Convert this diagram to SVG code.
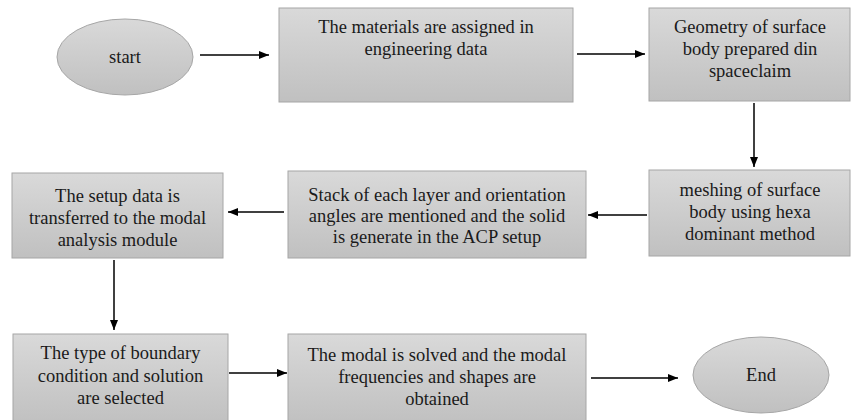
<svg xmlns="http://www.w3.org/2000/svg" width="851" height="420" viewBox="0 0 851 420">
<defs>
<linearGradient id="g" x1="0" y1="0" x2="0" y2="1">
<stop offset="0" stop-color="#d9d9d9"/>
<stop offset="1" stop-color="#c0c0c0"/>
</linearGradient>
<marker id="ah" markerWidth="10" markerHeight="8" refX="10" refY="4" orient="auto" markerUnits="userSpaceOnUse">
<path d="M0,0 L10,4 L0,8 Z" fill="#000"/>
</marker>
<style>
.box{fill:url(#g);stroke:#a6a6a6;stroke-width:1}
.t{font-family:"Liberation Serif","Times New Roman",serif;font-size:18.5px;fill:#1a1a1a;text-anchor:middle}
.c{stroke:#000;stroke-width:1.5;fill:none;marker-end:url(#ah)}
</style>
</defs>
<rect width="851" height="420" fill="#fff"/>
<g id="start">
<ellipse class="box" cx="125" cy="57" rx="68" ry="38"/>
<text class="t" x="125" y="63">start</text>
</g>
<g id="materials">
<rect class="box" x="279" y="8" width="294" height="94"/>
<text class="t" x="426" y="33">The materials are assigned in</text>
<text class="t" x="426" y="55">engineering data</text>
</g>
<g id="geometry">
<rect class="box" x="649" y="8" width="201" height="93"/>
<text class="t" x="750" y="33">Geometry of surface</text>
<text class="t" x="750" y="55">body prepared din</text>
<text class="t" x="750" y="77">spaceclaim</text>
</g>
<g id="meshing">
<rect class="box" x="649" y="170" width="201" height="86"/>
<text class="t" x="750" y="196">meshing of surface</text>
<text class="t" x="750" y="218">body using hexa</text>
<text class="t" x="750" y="240">dominant method</text>
</g>
<g id="stack">
<rect class="box" x="288" y="171" width="298" height="87"/>
<text class="t" x="437" y="201">Stack of each layer and orientation</text>
<text class="t" x="437" y="222">angles are mentioned and the solid</text>
<text class="t" x="437" y="243">is generate in the ACP setup</text>
</g>
<g id="setup">
<rect class="box" x="12" y="173" width="211" height="85"/>
<text class="t" x="117.5" y="202">The setup data is</text>
<text class="t" x="117.5" y="224">transferred to the modal</text>
<text class="t" x="117.5" y="246">analysis module</text>
</g>
<g id="boundary">
<rect class="box" x="13" y="334" width="215" height="90"/>
<text class="t" x="120.5" y="359">The type of boundary</text>
<text class="t" x="120.5" y="382">condition and solution</text>
<text class="t" x="120.5" y="404">are selected</text>
</g>
<g id="modal">
<rect class="box" x="288" y="334" width="298" height="90"/>
<text class="t" x="437" y="361">The modal is solved and the modal</text>
<text class="t" x="437" y="383">frequencies and shapes are</text>
<text class="t" x="437" y="405">obtained</text>
</g>
<g id="end">
<ellipse class="box" cx="761" cy="375" rx="68" ry="38"/>
<text class="t" x="761" y="381">End</text>
</g>
<g id="connectors">
<line class="c" x1="200" y1="55" x2="269" y2="55"/>
<line class="c" x1="577" y1="54" x2="645" y2="54"/>
<line class="c" x1="754" y1="103" x2="754" y2="167"/>
<line class="c" x1="647" y1="215" x2="588" y2="215"/>
<line class="c" x1="284" y1="212" x2="228" y2="212"/>
<line class="c" x1="114" y1="260" x2="114" y2="330"/>
<line class="c" x1="229" y1="373" x2="287" y2="373"/>
<line class="c" x1="591" y1="378" x2="678" y2="378"/>
</g>
</svg>
